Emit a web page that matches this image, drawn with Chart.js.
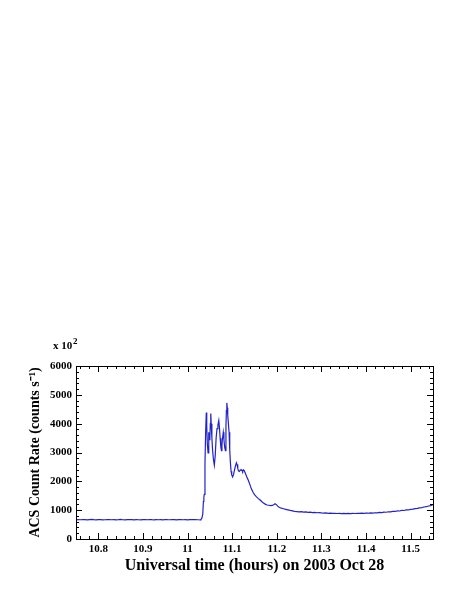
<!DOCTYPE html>
<html>
<head>
<meta charset="utf-8">
<script src="https://cdn.jsdelivr.net/npm/chart.js@4.4.1/dist/chart.umd.min.js"></script>
<style>
  html, body { margin: 0; padding: 0; background: #fff; }
  canvas { display: block; }
</style>
</head>
<body>
<canvas id="acsChart" width="468" height="605"></canvas>
<script>
// time (UT hours) and ACS count rate (x 10^2 counts/s)
const baseTimes = [10.750,10.755,10.760,10.765,10.770,10.775,10.780,10.785,10.790,10.795,
  10.800,10.805,10.810,10.815,10.820,10.825,10.830,10.835,10.840,10.845,
  10.850,10.855,10.860,10.865,10.870,10.875,10.880,10.885,10.890,10.895,
  10.900,10.905,10.910,10.915,10.920,10.925,10.930,10.935,10.940,10.945,
  10.950,10.955,10.960,10.965,10.970,10.975,10.980,10.985,10.990,10.995,
  11.000,11.005,11.010,11.015,11.020,11.025];
const baseRates = [665,672,668,675,670,663,671,678,669,666,
  674,670,662,668,676,671,667,673,665,670,
  679,668,664,672,669,675,666,671,668,663,
  674,670,667,677,669,665,672,668,671,664,
  676,670,667,673,669,662,671,675,668,670,
  666,673,669,676,671,668];

const flareTimes = [11.028,11.030,11.032,11.034,11.0355,11.0365,11.0375,11.039,11.0405,11.042,
  11.043,11.0443,11.046,11.047,11.048,11.049,11.050,11.051,11.052,11.053,
  11.0545,11.056,11.058,11.060,11.062,11.064,11.066,11.068,11.070,11.0715,
  11.073,11.0745,11.076,11.077,11.078,11.080,11.0815,11.083,11.0848,11.086,
  11.087,11.088,11.089,11.090,11.0915,11.093,11.0945,11.096,11.0975,11.099,
  11.101,11.103,11.105,11.107,11.1095,11.111,11.1125,11.114,11.116,11.118,
  11.1205,11.122,11.1235,11.125,11.127,11.129,11.1315,11.1335,11.1355,11.138,
  11.1405,11.143,11.147,11.150,11.154,11.158,11.162,11.166,11.170,11.174,
  11.178,11.182,11.186,11.190,11.193,11.196,11.199,11.202,11.206,11.210,
  11.215,11.220,11.225,11.230,11.235,11.240,11.245];
const flareRates = [660,680,720,850,1300,1450,1550,2600,3700,4390,
  3900,3300,2990,3500,3700,3450,3500,4000,4350,4000,
  3500,3100,2750,2560,2900,3500,3830,3950,4110,3850,
  3500,3200,3060,3250,3450,3700,3450,3200,3060,3900,
  4450,4720,4550,4300,4000,3700,3100,2650,2350,2220,
  2150,2230,2380,2520,2640,2580,2450,2360,2340,2390,
  2400,2370,2340,2400,2370,2300,2200,2120,2060,1960,
  1850,1740,1610,1540,1470,1410,1360,1300,1250,1210,
  1180,1170,1160,1165,1190,1220,1190,1140,1090,1070,
  1050,1030,1010,990,975,960,950];

const tailTimes = [11.250,11.255,11.260,11.265,11.270,11.275,11.280,11.285,11.290,11.295,
  11.300,11.305,11.310,11.315,11.320,11.325,11.330,11.335,11.340,11.345,
  11.350,11.355,11.360,11.365,11.370,11.375,11.380,11.385,11.390,11.395,
  11.400,11.405,11.410,11.415,11.420,11.425,11.430,11.435,11.440,11.445,
  11.450,11.455,11.460,11.465,11.470,11.475,11.480,11.485,11.490,11.495,
  11.500,11.505,11.510,11.515,11.520,11.525,11.530,11.535,11.540,11.545,11.550];
const tailRates = [940,946,932,938,925,929,918,922,910,914,
  905,899,903,892,897,888,893,884,890,882,
  887,880,889,883,891,884,892,887,895,890,
  898,894,905,900,911,908,920,916,931,928,
  944,941,958,955,972,971,990,988,1010,1007,
  1030,1034,1055,1060,1080,1088,1110,1120,1145,1158,1190];

const times = baseTimes.concat(flareTimes, tailTimes);
const rates = baseRates.concat(flareRates, tailRates);

const xTickVals = [10.8, 10.9, 11.0, 11.1, 11.2, 11.3, 11.4, 11.5];
const yTickVals = [0, 1000, 2000, 3000, 4000, 5000, 6000];

const serif = "'Liberation Serif', 'Times New Roman', serif";

// box + inward ticks on all four sides, like the original IDL plot
const framePlugin = {
  id: 'frame',
  afterDraw(chart) {
    const ctx = chart.ctx;
    const a = chart.chartArea;
    const xs = chart.scales.x;
    const ys = chart.scales.y;
    ctx.save();
    ctx.strokeStyle = '#000';
    ctx.lineWidth = 1;
    ctx.strokeRect(Math.round(a.left) + 0.5, Math.round(a.top) + 0.5,
      Math.round(a.right - a.left), Math.round(a.bottom - a.top));
    ctx.beginPath();
    for (let v = 10.76; v < 11.55; v += 0.02) {
      const major = Math.abs(v * 10 - Math.round(v * 10)) < 1e-6;
      const len = major ? 6 : 3;
      const px = Math.round(xs.getPixelForValue(v)) + 0.5;
      ctx.moveTo(px, a.bottom); ctx.lineTo(px, a.bottom - len);
      ctx.moveTo(px, a.top); ctx.lineTo(px, a.top + len);
    }
    for (let v = 200; v < 6000; v += 200) {
      const len = (v % 1000 === 0) ? 6 : 3;
      const py = Math.round(ys.getPixelForValue(v)) + 0.5;
      ctx.moveTo(a.left, py); ctx.lineTo(a.left + len, py);
      ctx.moveTo(a.right, py); ctx.lineTo(a.right - len, py);
    }
    ctx.stroke();
    // multiplier label above the y axis
    ctx.fillStyle = '#000';
    ctx.textBaseline = 'alphabetic';
    ctx.font = 'bold 11px ' + serif;
    ctx.fillText('x 10', 53, 349);
    ctx.font = 'bold 9px ' + serif;
    ctx.fillText('2', 73, 344);
    ctx.restore();
  }
};

const ctx = document.getElementById('acsChart').getContext('2d');
const acsChart = new Chart(ctx, {
  type: 'line',
  data: {
    datasets: [{
      data: times.map((t, i) => ({ x: t, y: rates[i] })),
      borderColor: '#2222c8',
      borderWidth: 1.2,
      pointRadius: 0,
      tension: 0,
      fill: false
    }]
  },
  options: {
    responsive: false,
    animation: false,
    devicePixelRatio: 1,
    layout: { padding: { top: 366, right: 35, left: 0, bottom: 0 } },
    plugins: { legend: { display: false }, tooltip: { enabled: false } },
    scales: {
      x: {
        type: 'linear',
        min: 10.75,
        max: 11.55,
        afterFit(scale) { scale.height = 66; },
        afterBuildTicks(scale) { scale.ticks = xTickVals.map(v => ({ value: v })); },
        grid: { display: false, drawTicks: false },
        border: { display: false },
        ticks: {
          padding: 4,
          color: '#000',
          font: { family: serif, size: 11, weight: 'bold' },
          callback: v => String(Math.round(v * 10) / 10)
        },
        title: {
          display: true,
          text: 'Universal time (hours) on 2003 Oct 28',
          color: '#000',
          font: { family: serif, size: 16, weight: 'bold' },
          padding: { top: 0, bottom: 30 }
        }
      },
      y: {
        type: 'linear',
        min: 0,
        max: 6000,
        afterFit(scale) { scale.width = 76; },
        afterBuildTicks(scale) { scale.ticks = yTickVals.map(v => ({ value: v })); },
        grid: { display: false, drawTicks: false },
        border: { display: false },
        ticks: {
          padding: 4,
          color: '#000',
          font: { family: serif, size: 11, weight: 'bold' },
          callback: v => String(v)
        },
        title: {
          display: true,
          text: 'ACS Count Rate (counts s\u207B\u00B9)',
          color: '#000',
          font: { family: serif, size: 14, weight: 'bold' },
          padding: { top: 27, bottom: 0 }
        }
      }
    }
  },
  plugins: [framePlugin]
});
</script>
</body>
</html>
